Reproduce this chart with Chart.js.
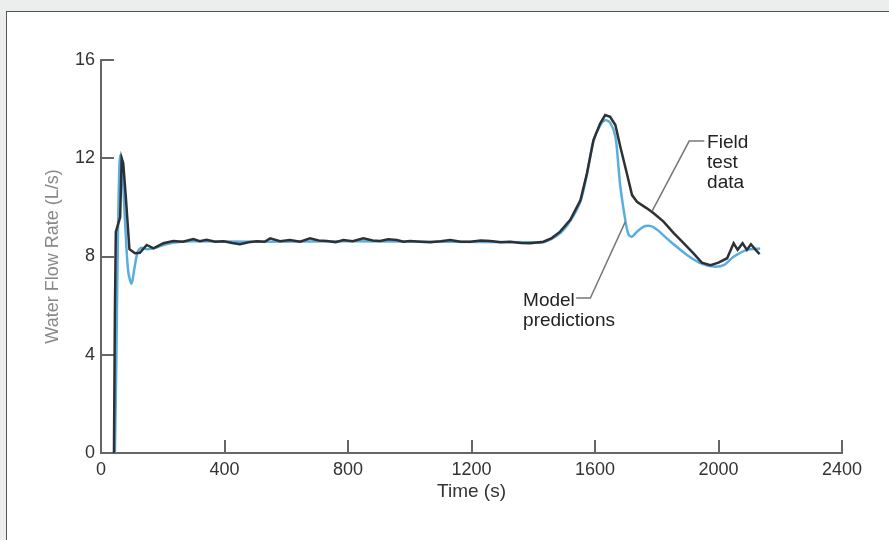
<!DOCTYPE html>
<html>
<head>
<meta charset="utf-8">
<script src="https://cdn.jsdelivr.net/npm/chart.js@4"></script>
<style>
    body { margin: 0; background: #eceeed; width: 889px; height: 540px; overflow: hidden; position: relative; }
    #frame { position: absolute; left: 6px; top: 11px; width: 900px; height: 600px; background: #fff;
             border-left: 1.5px solid #555; border-top: 1.5px solid #555; }
    #wrap { position: absolute; left: 0; top: 0; width: 889px; height: 540px; }
</style>
</head>
<body>
<div id="frame"></div>
<div id="wrap"><canvas id="flowChart" width="889" height="540"></canvas></div>
<script>
// field test data (s, L/s)
const fieldTime = [42, 45, 48, 55, 62, 67, 72, 80, 92, 110, 126, 148, 170, 202, 234, 265, 299, 320, 342, 370, 397,
    425, 450, 478, 505, 530, 548, 580, 612, 645, 677, 705, 731, 760, 785, 815, 850, 880, 904, 930, 958, 980, 1001,
    1035, 1066, 1100, 1131, 1165, 1196, 1230, 1261, 1295, 1325, 1360, 1390, 1433, 1460, 1487, 1520, 1553, 1574,
    1595, 1617, 1633, 1649, 1666, 1682, 1703, 1720, 1736, 1768, 1790, 1822, 1855, 1887, 1919, 1946, 1974, 2000,
    2028, 2049, 2062, 2078, 2092, 2105, 2119, 2133];
const fieldFlow = [0, 5.7, 9.0, 9.3, 9.6, 12.0, 11.8, 10.5, 8.3, 8.13, 8.15, 8.47, 8.33, 8.54, 8.63, 8.6, 8.71, 8.62, 8.68, 8.6, 8.62,
    8.55, 8.5, 8.58, 8.62, 8.6, 8.74, 8.62, 8.67, 8.6, 8.74, 8.65, 8.63, 8.58, 8.67, 8.62, 8.74, 8.65, 8.63, 8.7, 8.67, 8.6, 8.63,
    8.6, 8.58, 8.62, 8.67, 8.6, 8.6, 8.65, 8.63, 8.58, 8.6, 8.55, 8.54, 8.6, 8.75, 9.01, 9.49, 10.3, 11.39,
    12.74, 13.42, 13.76, 13.69, 13.35, 12.47, 11.39, 10.5, 10.23, 9.96, 9.76, 9.42, 8.95, 8.54, 8.13, 7.75, 7.65, 7.75,
    7.93, 8.54, 8.27, 8.54, 8.27, 8.5, 8.29, 8.1];

// model predictions (s, L/s)
const modelTime = [45, 50, 55, 60, 64, 70, 78, 88, 99, 108, 118, 130, 150, 175, 210, 260, 300, 500, 800, 1100, 1400,
    1433, 1487, 1520, 1553, 1574, 1595, 1617, 1633, 1649, 1666, 1676, 1682, 1698, 1709, 1720, 1736, 1763, 1790,
    1845, 1898, 1943, 1984, 2017, 2049, 2092, 2135];
const modelFlow = [0, 4, 9, 11.8, 12.13, 11.4, 9.4, 7.4, 6.9, 7.5, 8.15, 8.35, 8.3, 8.35, 8.5, 8.6, 8.62, 8.6, 8.62, 8.6, 8.58,
    8.58, 8.95, 9.45, 10.25, 11.35, 12.7, 13.35, 13.55, 13.45, 12.88, 11.66, 10.85, 9.49, 8.88, 8.81, 9.01, 9.24, 9.19,
    8.6, 8.06, 7.72, 7.59, 7.65, 7.99, 8.27, 8.33];

const xTicks = [0, 400, 800, 1200, 1600, 2000, 2400];
const yTicks = [0, 4, 8, 12, 16];

// callout labels: text lines, text anchor and leader path, in data units
const callouts = [
    { lines: ["Field", "test", "data"], at: [1963, 12.42], path: [[1954, 12.7], [1905, 12.7], [1785, 9.85]] },
    { lines: ["Model", "predictions"], at: [1367, 5.99], path: [[1539, 6.31], [1585, 6.31], [1698, 9.41]] }
];

const FONT = "'Liberation Sans', Arial, sans-serif";

function toPoints(xs, ys) {
    return xs.map((x, i) => ({ x: x, y: ys[i] }));
}

const innerTicks = {
    id: "innerTicks",
    beforeDatasetsDraw(chart) {
        const { ctx, chartArea, scales } = chart;
        ctx.save();
        ctx.strokeStyle = "#666";
        ctx.lineWidth = 2;
        ctx.beginPath();
        yTicks.slice(1).forEach((v) => {
            const y = Math.round(scales.y.getPixelForValue(v));
            ctx.moveTo(chartArea.left, y);
            ctx.lineTo(chartArea.left + 13, y);
        });
        xTicks.slice(1).forEach((v) => {
            const x = Math.round(scales.x.getPixelForValue(v));
            ctx.moveTo(x, chartArea.bottom);
            ctx.lineTo(x, chartArea.bottom - 13);
        });
        ctx.stroke();
        ctx.restore();
    },
    afterDraw(chart) {
        const { ctx, scales } = chart;
        ctx.save();
        ctx.font = "19px " + FONT;
        ctx.fillStyle = "#222";
        ctx.textBaseline = "alphabetic";
        ctx.strokeStyle = "#777";
        ctx.lineWidth = 1.5;
        callouts.forEach((c) => {
            ctx.beginPath();
            c.path.forEach((p, i) => {
                const px = scales.x.getPixelForValue(p[0]);
                const py = scales.y.getPixelForValue(p[1]);
                if (i === 0) ctx.moveTo(px, py); else ctx.lineTo(px, py);
            });
            ctx.stroke();
            const tx = scales.x.getPixelForValue(c.at[0]);
            const ty = scales.y.getPixelForValue(c.at[1]);
            c.lines.forEach((line, i) => ctx.fillText(line, tx, ty + i * 20));
        });
        ctx.restore();
    }
};

new Chart(document.getElementById("flowChart"), {
    type: "line",
    data: {
        datasets: [
            {
                label: "Field test data",
                data: toPoints(fieldTime, fieldFlow),
                borderColor: "#2e3133",
                borderWidth: 2.5,
                pointRadius: 0,
                tension: 0
            },
            {
                label: "Model predictions",
                data: toPoints(modelTime, modelFlow),
                borderColor: "#5aaede",
                borderWidth: 2.5,
                pointRadius: 0,
                tension: 0.3
            }
        ]
    },
    options: {
        responsive: false,
        animation: false,
        events: [],
        layout: { padding: { left: 0, top: 60, right: 47, bottom: 0 } },
        plugins: { legend: { display: false }, tooltip: { enabled: false } },
        scales: {
            x: {
                type: "linear",
                min: 0,
                max: 2400,
                afterFit: (s) => { s.height = 87; },
                afterBuildTicks: (s) => { s.ticks = xTicks.map((v) => ({ value: v })); },
                grid: { drawOnChartArea: false, drawTicks: false },
                border: { color: "#666", width: 2 },
                ticks: { color: "#333", padding: 6, maxRotation: 0, callback: (v) => String(v),
                         font: { family: FONT, size: 18 } },
                title: { display: true, text: "Time (s)", color: "#333", padding: { top: 0, bottom: 37 },
                         font: { family: FONT, size: 19 } }
            },
            y: {
                min: 0,
                max: 16,
                afterFit: (s) => { s.width = 101; },
                afterBuildTicks: (s) => { s.ticks = yTicks.map((v) => ({ value: v })); },
                grid: { drawOnChartArea: false, drawTicks: false },
                border: { color: "#666", width: 2 },
                ticks: { color: "#333", padding: 6, callback: (v) => String(v), font: { family: FONT, size: 18 } },
                title: { display: true, text: "Water Flow Rate (L/s)", color: "#888", padding: { top: 42, bottom: 0 },
                         font: { family: FONT, size: 18 } }
            }
        }
    },
    plugins: [innerTicks]
});
</script>
</body>
</html>
